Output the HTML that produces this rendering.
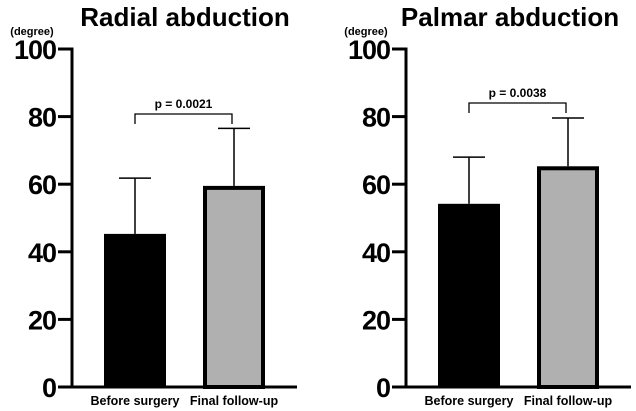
<!DOCTYPE html>
<html><head><meta charset="utf-8"><style>
body{margin:0;background:#fff}
svg{display:block;font-family:"Liberation Sans",sans-serif}
</style></head><body>
<svg id="c" width="636" height="411" viewBox="0 0 636 411"></svg>
<script>
const categories = ["Before surgery", "Final follow-up"];
const panelTitles = ["Radial abduction", "Palmar abduction"];
const radialMeans = [45.3, 59.5];
const radialErrors = [61.8, 76.5];
const palmarMeans = [54.2, 65.3];
const palmarErrors = [68.0, 79.6];
const pValues = ["p = 0.0021", "p = 0.0038"];
const tickValues = [0, 20, 40, 60, 80, 100];

const NS = "http://www.w3.org/2000/svg";
const svg = document.getElementById("c");
function mk(tag, attrs, parent) {
  const e = document.createElementNS(NS, tag);
  for (const k in attrs) e.setAttribute(k, attrs[k]);
  (parent || svg).appendChild(e);
  return e;
}
const y0 = 387, y100 = 49;
function yScale(v) { return y0 - (y0 - y100) * v / 100; }

const panels = [
  {ax: 72, means: radialMeans, errs: radialErrors, bracketY: 114, p: pValues[0], title: panelTitles[0], titleX: 185},
  {ax: 406, means: palmarMeans, errs: palmarErrors, bracketY: 103, p: pValues[1], title: panelTitles[1], titleX: 510}
];

panels.forEach((P, pi) => {
  const g = mk("g", {});
  
  
  const t = mk("text", {x: P.titleX, y: 26, "text-anchor": "middle", "font-size": 26, "font-weight": "bold"}, g);
  t.textContent = P.title;
  
  
  const u = mk("text", {x: P.ax - 40, y: 35, "text-anchor": "middle", "font-size": 11, "font-weight": "bold"}, g);
  u.textContent = "(degree)";
  
  
  const ya = mk("line", {x1: P.ax, y1: y100 - 1.5, x2: P.ax, y2: y0 + 1.5, stroke: "#000", "stroke-width": 3}, g);
  
  
  const xa = mk("line", {x1: P.ax - 14, y1: y0, x2: P.ax + 225, y2: y0, stroke: "#000", "stroke-width": 3}, g);
  
  
  tickValues.forEach(v => {
    const yy = yScale(v);
    const tk = mk("line", {x1: P.ax - 14, y1: yy, x2: P.ax, y2: yy, stroke: "#000", "stroke-width": 3}, g);
    
    
    const tl = mk("text", {x: P.ax - 16, y: yy + 10, "text-anchor": "end", "font-size": 27, "font-weight": "bold", "letter-spacing": -1}, g);
    tl.textContent = v;
    
    
  });
  const barLeft = [P.ax + 32, P.ax + 131];
  const bw = 62;
  categories.forEach((c, i) => {
    const cx = barLeft[i] + bw / 2;
    const top = yScale(P.means[i]);
    const et = yScale(P.errs[i]);
    const el = mk("line", {x1: cx, y1: et, x2: cx, y2: top, stroke: "#000", "stroke-width": 1.5}, g);
    
    
    const cap = mk("line", {x1: cx - 16, y1: et, x2: cx + 16, y2: et, stroke: "#000", "stroke-width": 1.5}, g);
    
    
    let b;
    if (i === 0) {
      b = mk("rect", {x: barLeft[i], y: top, width: bw, height: y0 - top, fill: "#000"}, g);
    } else {
      b = mk("rect", {x: barLeft[i] + 2, y: top + 2, width: bw - 4, height: y0 - top - 2, fill: "#b0b0b0", stroke: "#000", "stroke-width": 4}, g);
    }
    
    
    const xl = mk("text", {x: cx, y: 405, "text-anchor": "middle", "font-size": 12.5, "font-weight": "bold"}, g);
    xl.textContent = c;
    
    
  });
  const bx1 = barLeft[0] + bw / 2, bx2 = barLeft[1] + bw / 2 - 2;
  const br = mk("path", {d: `M${bx1},${P.bracketY + 10} V${P.bracketY} H${bx2} V${P.bracketY + 10}`, fill: "none", stroke: "#000", "stroke-width": 1.3}, g);
  
  
  const pt = mk("text", {x: (bx1 + bx2) / 2, y: P.bracketY - 6, "text-anchor": "middle", "font-size": 12, "font-weight": "bold"}, g);
  pt.textContent = P.p;
  
  
});
</script>
</body></html>
